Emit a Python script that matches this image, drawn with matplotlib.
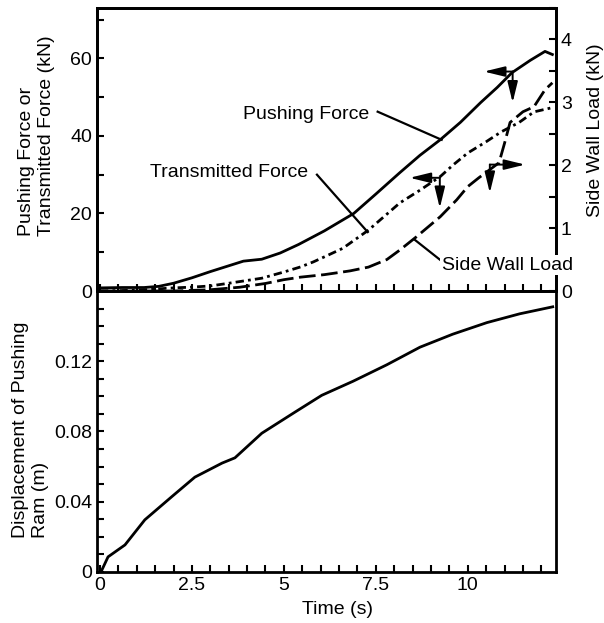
import matplotlib
matplotlib.use('Agg')
import matplotlib.pyplot as plt
from matplotlib.ticker import MultipleLocator

plt.rcParams['font.family'] = ['Liberation Sans', 'DejaVu Sans']
plt.rcParams['font.size'] = 14

# Pushing force (kN, left axis)
t_push = [0, 0.6, 1.2, 1.6, 2.0, 2.5, 3.0, 3.5, 3.9, 4.4, 4.9, 5.4, 6.1, 6.9, 7.5,
          8.15, 8.7, 9.25, 9.8, 10.35, 10.8, 11.2, 11.7, 12.1, 12.3]
f_push = [0.8, 0.9, 0.9, 1.2, 2.0, 3.4, 5.0, 6.5, 7.7, 8.2, 9.8, 12.0, 15.5, 20, 25,
          30.5, 35, 39, 43.5, 48.6, 52.5, 56.3, 59.5, 61.8, 61.0]

# Transmitted force (kN, left axis)
t_trans = [0, 1.0, 1.5, 2.0, 2.5, 3.0, 3.5, 4.4, 5.0, 5.45, 5.8, 6.1, 6.6, 7.3, 7.7,
           8.15, 8.7, 9.25, 9.6, 10.0, 10.5, 10.9, 11.4, 11.8, 12.3]
f_trans = [0, 0.2, 0.5, 0.8, 1.0, 1.3, 2.0, 3.3, 4.9, 6.2, 7.5, 8.8, 11, 15.7, 19,
           22.7, 26, 29.5, 32.5, 35.6, 38.5, 41, 43.5, 46.2, 47.3]

# Side wall load (kN, right axis)
t_side = [0, 1, 2, 3, 3.8, 4.5, 5.0, 5.45, 6.1, 6.8, 7.3, 7.8, 8.15, 8.6, 9.25, 9.7,
          10.0, 10.3, 10.6, 10.85, 11.0, 11.15, 11.5, 11.8, 12.1, 12.3]
f_side = [0, 0, 0, 0.02, 0.06, 0.12, 0.18, 0.22, 0.26, 0.32, 0.38, 0.5, 0.65, 0.86, 1.18, 1.45,
          1.66, 1.8, 1.93, 2.04, 2.35, 2.68, 2.85, 2.93, 3.2, 3.31]

# Displacement of pushing ram (m)
t_disp = [0, 0.05, 0.22, 0.68, 1.22, 1.96, 2.58, 3.32, 3.67, 4.4, 5.3, 6.03, 6.88,
          7.8, 8.7, 9.59, 10.52, 11.41, 12.31]
d_disp = [0, 0.001, 0.0086, 0.0154, 0.0297, 0.043, 0.054, 0.062, 0.065, 0.079, 0.091,
          0.1006, 0.1086, 0.118, 0.128, 0.1354, 0.142, 0.147, 0.151]

time_ticks = [0, 2.5, 5, 7.5, 10]
time_labels = ['0', '2.5', '5', '7.5', '10']

fig = plt.figure(figsize=(6.04, 6.23), dpi=100)
ax1 = fig.add_axes([0.1606, 0.5329, 0.76, 0.4543])
ax3 = fig.add_axes([0.1606, 0.0819, 0.76, 0.451])
ax2 = ax1.twinx()

lw = 2.0
ax1.plot(t_push, f_push, color='black', lw=lw)
ax1.plot(t_trans, f_trans, color='black', lw=lw, linestyle=(0, (3, 1.5, 1, 1.5)))
ax2.plot(t_side, f_side, color='black', lw=lw, linestyle=(0, (6, 2)))
ax3.plot(t_disp, d_disp, color='black', lw=lw)

for ax in (ax1, ax2, ax3):
    ax.set_xlim(-0.08, 12.4)
    for s in ax.spines.values():
        s.set_linewidth(2)

ax1.set_ylim(0, 73)
ax2.set_ylim(0, 4.5)
ax3.set_ylim(0, 0.16)

# top panel ticks
ax1.set_yticks([0, 20, 40, 60])
ax1.yaxis.set_minor_locator(MultipleLocator(10))
ax1.set_xticks(time_ticks)
ax1.xaxis.set_minor_locator(MultipleLocator(0.5))
ax1.tick_params(axis='x', labelbottom=False)
ax1.tick_params(which='both', direction='in', length=5, width=1.5, right=False, top=False)

ax2.set_yticks([0, 1, 2, 3, 4])
ax2.yaxis.set_minor_locator(MultipleLocator(0.5))
ax2.tick_params(which='both', direction='in', length=5, width=1.5)

# bottom panel ticks
ax3.set_xticks(time_ticks)
ax3.set_xticklabels(time_labels)
ax3.xaxis.set_minor_locator(MultipleLocator(0.5))
ax3.set_yticks([0, 0.04, 0.08, 0.12])
ax3.set_yticklabels(['0', '0.04', '0.08', '0.12'])
ax3.yaxis.set_minor_locator(MultipleLocator(0.01))
ax3.tick_params(which='both', direction='in', length=5, width=1.5, right=False, top=False)

ax1.set_ylabel('Pushing Force or\nTransmitted Force (kN)', multialignment='left')
ax1.yaxis.set_label_coords(-0.092, 0.55)
ax2.set_ylabel('Side Wall Load (kN)')
ax2.yaxis.set_label_coords(1.068, 0.569)
ax3.set_ylabel('Displacement of Pushing\nRam (m)', multialignment='left')
ax3.yaxis.set_label_coords(-0.105, 0.505)
ax3.set_xlabel('Time (s)')
ax3.xaxis.set_label_coords(0.525, -0.105)

# labels with leader lines (left-axis data coords)
ax1.text(3.89, 45.5, 'Pushing Force', ha='left', va='center')
ax1.plot([7.55, 9.29], [46.25, 39.0], color='black', lw=1.6)
ax1.text(1.36, 30.5, 'Transmitted Force', ha='left', va='center')
ax1.plot([5.9, 7.28], [30.0, 15.2], color='black', lw=1.6)
ax1.plot([8.56, 9.32], [13.2, 7.5], color='black', lw=1.6)
ax2.text(9.29, 6.7, 'Side Wall Load', ha='left', va='center', transform=ax1.transData,
         zorder=10, clip_on=False,
         bbox=dict(facecolor='white', edgecolor='none', pad=1))

# axis indicator arrows
arrow = dict(arrowstyle='-|>,head_length=0.9,head_width=0.22', color='black', lw=1.4,
             shrinkA=0, shrinkB=0)
arrows = [
    ((11.22, 56.6), (10.44, 56.6)),
    ((11.22, 56.6), (11.22, 48.6)),
    ((9.24, 29.2), (8.42, 29.2)),
    ((9.24, 29.2), (9.24, 21.4)),
    ((10.6, 32.6), (11.56, 32.6)),
    ((10.6, 32.6), (10.6, 25.3)),
]
for start, end in arrows:
    ax1.annotate('', xy=end, xytext=start, arrowprops=arrow)

fig.savefig('out.png', dpi=100)
